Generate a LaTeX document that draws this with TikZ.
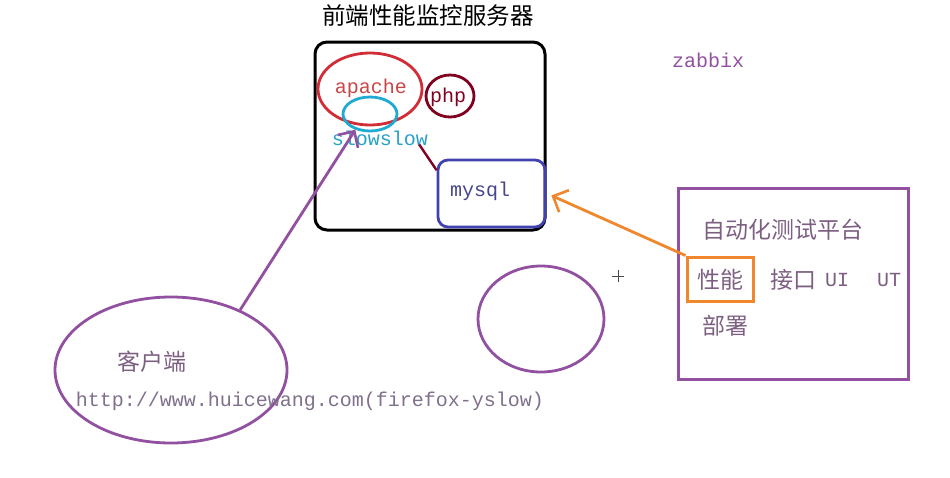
\documentclass[tikz,border=0pt]{standalone}
\usepackage{fontspec}
\setmonofont{Liberation Mono}
\newfontfamily\cjk{Noto Sans CJK SC}
\usetikzlibrary{shapes.geometric,arrows.meta}
\definecolor{purp}{RGB}{145,80,160}
\definecolor{cnText}{RGB}{125,95,130}
\definecolor{urlText}{RGB}{128,112,140}
\definecolor{apRed}{RGB}{210,45,55}
\definecolor{apText}{RGB}{200,70,70}
\definecolor{dRed}{RGB}{128,0,32}
\definecolor{cyanLine}{RGB}{30,170,210}
\definecolor{cyanText}{RGB}{40,160,200}
\definecolor{blueLine}{RGB}{65,65,175}
\definecolor{blueText}{RGB}{70,70,140}
\definecolor{orng}{RGB}{240,135,45}
\tikzset{
  lbl/.style={inner sep=0pt, font=\ttfamily\fontsize{20}{20}\selectfont},
  cnlbl/.style={inner sep=0pt, text=cnText, font=\cjk\fontsize{23}{23}\selectfont},
  ell/.style={ellipse, draw, inner sep=0pt, line width=2.8pt},
  barb/.style={-{Straight Barb[length=12pt,width=24pt,line width=2.6pt]}, line width=2.8pt}
}
\begin{document}
\begin{tikzpicture}[x=1pt,y=-1pt]
\useasboundingbox (0,0) rectangle (950,477);
% title
\node[inner sep=0pt, font=\cjk\fontsize{23.5}{23.5}\selectfont] (title) at (428,16) {前端性能监控服务器};
% server box
\node[draw, line width=3pt, rounded corners=12pt, minimum width=230pt, minimum height=188pt, inner sep=0pt] (server) at (430,136) {};
% apache
\node[ell, draw=apRed, minimum width=104pt, minimum height=72pt] (apache) at (370,89) {};
\node[lbl, text=apText] (apt) at (371,88) {apache};
% php
\node[ell, draw=dRed, minimum width=48pt, minimum height=42pt] (php) at (450,96) {};
\node[lbl, text=dRed] (phpt) at (448,97) {php};
% cyan
\node[ell, draw=cyanLine, minimum width=54pt, minimum height=34pt] (cyan) at (370,114) {};
\node[lbl, text=cyanText] (sl) at (380,138) {slowslow};
% mysql
\node[draw=blueLine, line width=2.8pt, rounded corners=10pt, minimum width=107pt, minimum height=67pt, inner sep=0pt] (mysql) at (491.5,193.5) {};
\node[lbl, text=blueText] (myt) at (480,191) {mysql};
\draw[dRed, line width=2.4pt] ([xshift=-9pt,yshift=1pt]sl.south east) -- (mysql.157);
% zabbix
\node[lbl, text=purp] (zab) at (708,60) {zabbix};
% client
\node[ell, draw=purp, minimum width=232pt, minimum height=146pt] (client) at (171,370) {};
\node[cnlbl] (clt) at (152,362) {客户端};
\node[lbl, text=urlText] (url) at (310,401) {http://www.huicewang.com(firefox-yslow)};
\draw[barb, purp] (client.41) -- (cyan.227);
% small ellipse
\node[ell, draw=purp, minimum width=126pt, minimum height=106pt] (small) at (541,319) {};
% cursor cross
\node[inner sep=0pt, minimum size=12pt] (cross) at (618,276) {};
\draw[black!70, line width=0.8pt] (cross.west) -- (cross.east) (cross.north) -- (cross.south);
% platform
\node[draw=purp, line width=3pt, minimum width=230pt, minimum height=191pt, inner sep=0pt] (plat) at (793,283.5) {};
\node[cnlbl, anchor=west] (platt) at (702,230) {自动化测试平台};
\node[draw=orng, line width=3pt, minimum width=66pt, minimum height=44pt, inner sep=0pt] (perf) at (720,279) {};
\node[cnlbl] (perft) at (720,280) {性能};
\node[cnlbl, anchor=west] (api) at (770,280) {接口};
\node[lbl, text=cnText, anchor=west] (ui) at (825,280) {UI};
\node[lbl, text=cnText, anchor=west] (ut) at (877,280) {UT};
\node[cnlbl, anchor=west] (dep) at (702,326) {部署};
\draw[barb, orng] (perf.north west) -- ([xshift=5pt,yshift=-2pt]mysql.east);
\end{tikzpicture}
\end{document}
